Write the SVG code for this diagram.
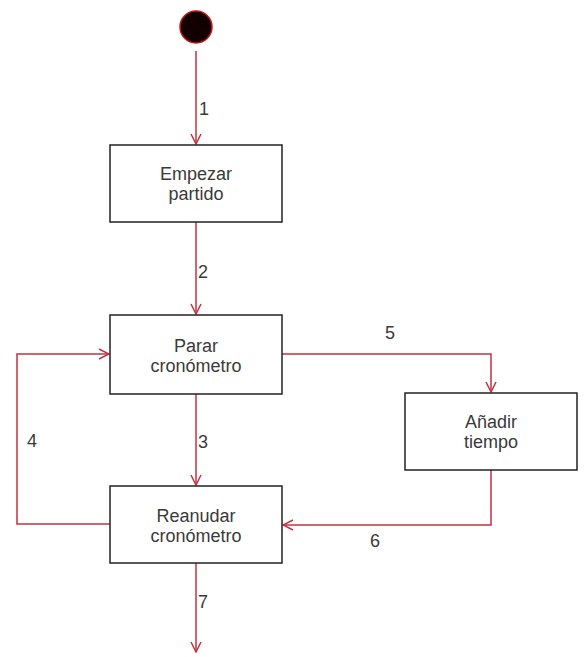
<svg xmlns="http://www.w3.org/2000/svg" width="584" height="657" viewBox="0 0 584 657">
  <style>
    .box { fill: #ffffff; stroke: #222222; stroke-width: 1.5; }
    .edge { fill: none; stroke: #c23340; stroke-width: 1.5; }
    .lbl { font-family: "Liberation Sans", Arial, sans-serif; font-size: 18px; fill: #3a3a3a; }
    .ctr { text-anchor: middle; }
  </style>
  <defs>
    <marker id="open" viewBox="0 0 12 12" refX="11" refY="6" markerWidth="12" markerHeight="12" markerUnits="userSpaceOnUse" orient="auto">
      <path d="M1,1 L11,6 L1,11" fill="none" stroke="#c23340" stroke-width="1.5"/>
    </marker>
  </defs>
  <rect width="584" height="657" fill="#ffffff"/>

  <!-- transitions -->
  <g id="connectors">
    <path class="edge" d="M196,51 V144" marker-end="url(#open)"/>
    <path class="edge" d="M196,222 V314" marker-end="url(#open)"/>
    <path class="edge" d="M196,394 V485" marker-end="url(#open)"/>
    <path class="edge" d="M110,524 H17 V354 H109" marker-end="url(#open)"/>
    <path class="edge" d="M282,354 H491 V392" marker-end="url(#open)"/>
    <path class="edge" d="M491,470 V525 H283" marker-end="url(#open)"/>
    <path class="edge" d="M196,563 V652" marker-end="url(#open)"/>
    <text class="lbl" x="199" y="115">1</text>
    <text class="lbl" x="198" y="278">2</text>
    <text class="lbl" x="198" y="448">3</text>
    <text class="lbl" x="27" y="447">4</text>
    <text class="lbl" x="385" y="339">5</text>
    <text class="lbl" x="370" y="547">6</text>
    <text class="lbl" x="198" y="608">7</text>
  </g>

  <g id="start">
    <circle cx="196" cy="27" r="16" fill="#120000" stroke="#cc1111" stroke-width="1.5"/>
  </g>

  <g id="empezar">
    <rect class="box" x="110" y="145" width="172" height="77"/>
    <text class="lbl ctr" x="196" y="180">Empezar</text>
    <text class="lbl ctr" x="196" y="200">partido</text>
  </g>

  <g id="parar">
    <rect class="box" x="110" y="315" width="172" height="79"/>
    <text class="lbl ctr" x="196" y="352">Parar</text>
    <text class="lbl ctr" x="196" y="372">cronómetro</text>
  </g>

  <g id="reanudar">
    <rect class="box" x="110" y="486" width="172" height="77"/>
    <text class="lbl ctr" x="196" y="522">Reanudar</text>
    <text class="lbl ctr" x="196" y="542">cronómetro</text>
  </g>

  <g id="anadir">
    <rect class="box" x="405" y="393" width="172" height="77"/>
    <text class="lbl ctr" x="491" y="428">Añadir</text>
    <text class="lbl ctr" x="491" y="448">tiempo</text>
  </g>
</svg>
